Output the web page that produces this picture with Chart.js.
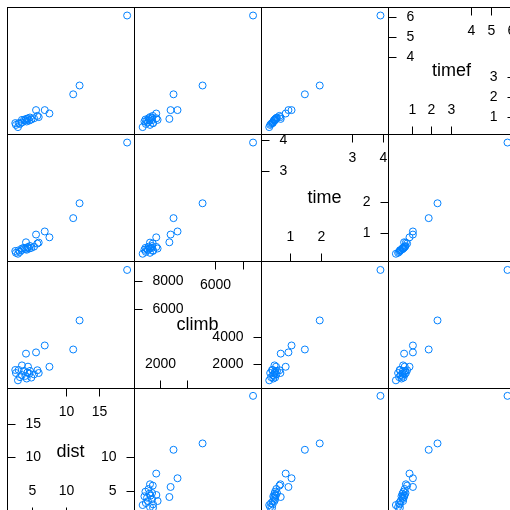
<!DOCTYPE html>
<html>
<head>
<meta charset="utf-8">
<script src="https://cdn.jsdelivr.net/npm/chart.js"></script>
<style>
html, body { margin: 0; padding: 0; width: 510px; height: 510px; overflow: hidden; background: #fff; }
canvas { position: absolute; }
</style>
</head>
<body>
<script>
// variables, from bottom-left to top-right of the diagonal
const varNames = ['dist', 'climb', 'time', 'timef'];

// one entry per race
const dist  = [19.2, 12.1, 11.15, 5.6, 6.9, 7.6, 4.1, 6.0, 2.5, 3.0, 3.5, 4.4, 4.7, 5.8, 4.0, 4.9, 2.9, 4.3, 5.3, 3.8, 3.5, 4.2, 3.2, 4.6, 2.6];
const climb = [8750, 5100, 3000, 2790, 3290, 1750, 2700, 1300, 1520, 1520, 1850, 1760, 1450, 1500, 1090, 970, 770, 1330, 1200, 1450, 1150, 900, 1000, 1250, 1300];
const time  = [3.92, 1.96, 1.48, 0.95, 1.05, 0.86, 0.70, 0.69, 0.42, 0.44, 0.50, 0.55, 0.58, 0.66, 0.48, 0.52, 0.33, 0.52, 0.56, 0.52, 0.45, 0.46, 0.39, 0.50, 0.36];
const timef = [5.80, 2.30, 1.86, 1.07, 1.07, 0.90, 0.63, 0.72, 0.42, 0.42, 0.58, 0.66, 0.70, 0.78, 0.55, 0.60, 0.22, 0.62, 0.66, 0.57, 0.45, 0.50, 0.38, 0.55, 0.33];

// tick values shown in the diagonal panels
const distTicks  = [5, 10, 15];
const climbTicks = [2000, 4000, 6000, 8000];
const timeTicks  = [1, 2, 3, 4];
const timefTicks = [1, 2, 3, 4, 5, 6];

const columns = { dist: dist, climb: climb, time: time, timef: timef };
const ticksFor = { dist: distTicks, climb: climbTicks, time: timeTicks, timef: timefTicks };
const limits = {
    dist: [1.34, 20.3],
    climb: [180, 9360],
    time: [0.08, 4.18],
    timef: [-0.15, 6.2]
};
// the vertical tick labels of the timef panel sit a little lower than its points' scale
const diagYLimits = { timef: [0.1, 6.45], climb: [243, 9424] };

const PANEL = 127;
const X0 = 7, Y0 = 7;
const FONT = '"Liberation Sans", Arial, Helvetica, sans-serif';

function drawDiag(chart, name) {
    const ctx = chart.ctx;
    const xs = chart.scales.x, ys = chart.scales.y;
    const a = chart.chartArea;
    const ticks = ticksFor[name];
    const n = ticks.length;
    const lower = ticks.slice(0, Math.ceil(n / 2));
    const upper = ticks.slice(Math.floor(n / 2));
    const L = a.left + 0.5, R = a.left + PANEL + 0.5, T = a.top + 0.5, B = a.top + PANEL + 0.5;
    const tl = 8;
    ctx.strokeStyle = '#000';
    ctx.fillStyle = '#000';
    ctx.lineWidth = 1;
    ctx.font = '14px ' + FONT;

    // bottom (lower half) and top (upper half)
    [[lower, B, -1], [upper, T, 1]].forEach(([vals, yb, dir]) => {
        let lastRight = -1e9;
        vals.forEach(v => {
            const px = Math.round(xs.getPixelForValue(v)) + 0.5;
            ctx.beginPath();
            ctx.moveTo(px, yb);
            ctx.lineTo(px, yb + dir * tl);
            ctx.stroke();
            const s = String(v);
            const w = ctx.measureText(s).width;
            if (px - w / 2 > lastRight + 2) {
                ctx.textAlign = 'center';
                ctx.textBaseline = 'middle';
                ctx.fillText(s, px, yb + dir * 24);
                lastRight = px + w / 2;
            }
        });
    });
    // left (upper half) and right (lower half)
    [[upper, L, 1, 'left'], [lower, R, -1, 'right']].forEach(([vals, xb, dir, align]) => {
        vals.forEach(v => {
            const py = Math.round(ys.getPixelForValue(v)) + 0.5;
            ctx.beginPath();
            ctx.moveTo(xb, py);
            ctx.lineTo(xb + dir * tl, py);
            ctx.stroke();
            ctx.textAlign = align;
            ctx.textBaseline = 'middle';
            ctx.fillText(String(v), xb + dir * 18, py);
        });
    });
    ctx.font = '18px ' + FONT;
    ctx.textAlign = 'center';
    ctx.textBaseline = 'middle';
    ctx.fillText(name, a.left + PANEL / 2, a.top + PANEL / 2 + 1);
}

const panelFrame = {
    id: 'panelFrame',
    afterDatasetsDraw(chart, args, opts) {
        const ctx = chart.ctx;
        const a = chart.chartArea;
        ctx.save();
        if (opts.diag) drawDiag(chart, opts.diag);
        ctx.strokeStyle = '#000';
        ctx.lineWidth = 1;
        ctx.strokeRect(a.left + 0.5, a.top + 0.5, PANEL, PANEL);
        ctx.restore();
    }
};

for (let r = 0; r < 4; r++) {
    for (let c = 0; c < 4; c++) {
        const xName = varNames[c];
        const yName = varNames[3 - r];
        const cv = document.createElement('canvas');
        cv.width = PANEL + 1;
        cv.height = PANEL + 1;
        cv.style.left = (X0 + c * PANEL) + 'px';
        cv.style.top = (Y0 + r * PANEL) + 'px';
        document.body.appendChild(cv);

        const isDiag = xName === yName;
        const xv = columns[xName], yv = columns[yName];
        const pts = isDiag ? [] : xv.map((v, i) => ({ x: v, y: yv[i] }));
        const span = (lim) => {
            // stretch so that limits land on the border lines (0.5 .. PANEL+0.5)
            const k = (lim[1] - lim[0]) / PANEL;
            return [lim[0] - 0.5 * k, lim[1] + 0.5 * k];
        };
        const xl = span(limits[xName]);
        const yl = span(isDiag && diagYLimits[yName] ? diagYLimits[yName] : limits[yName]);

        new Chart(cv.getContext('2d'), {
            type: 'scatter',
            data: {
                datasets: [{
                    data: pts,
                    pointStyle: 'circle',
                    pointRadius: 3.5,
                    borderColor: '#0080ff',
                    backgroundColor: 'rgba(0,0,0,0)',
                    borderWidth: 1,
                    clip: false
                }]
            },
            options: {
                responsive: false,
                animation: false,
                events: [],
                layout: { padding: 0, autoPadding: false },
                plugins: {
                    legend: { display: false },
                    tooltip: { enabled: false },
                    panelFrame: { diag: isDiag ? xName : null }
                },
                scales: {
                    x: { type: 'linear', display: false, min: xl[0], max: xl[1] },
                    y: { type: 'linear', display: false, min: yl[0], max: yl[1] }
                }
            },
            plugins: [panelFrame]
        });
    }
}
</script>
</body>
</html>
